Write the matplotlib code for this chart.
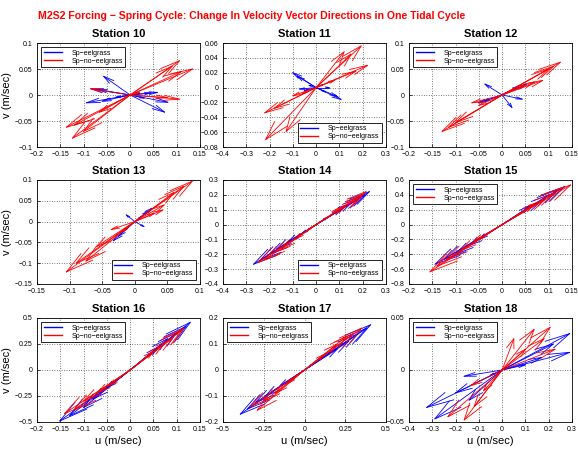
import numpy as np
import matplotlib
matplotlib.use("Agg")
from matplotlib import pyplot as plt

plt.rcParams['font.family'] = ['Liberation Sans', 'DejaVu Sans']

# velocity vectors (u, v) in m/sec
st10_eel_u = [-0.057, -0.084, -0.072, -0.094, -0.060, -0.030, 0.020, 0.074, 0.081, 0.059, 0.045, 0.030]
st10_eel_v = [0.036, 0.012, 0.011, -0.015, -0.012, -0.004, 0.003, -0.033, -0.014, 0.005, 0.004, -0.006]
st10_no_u = [0.106, 0.090, 0.134, 0.110, 0.106, 0.080, -0.085, -0.137, -0.120, -0.124, -0.100, -0.066, 0.020]
st10_no_v = [0.066, 0.055, 0.050, 0.045, -0.008, -0.005, 0.012, -0.062, -0.058, -0.083, -0.070, -0.033, 0.005]

st11_eel_u = [-0.100, -0.080, -0.071, -0.050, 0.057, 0.107, 0.090, 0.040, -0.030, 0.030]
st11_eel_v = [0.020, 0.015, -0.002, -0.004, 0.000, -0.016, -0.012, -0.006, 0.003, 0.004]
st11_no_u = [0.193, 0.150, 0.120, 0.221, 0.170, -0.221, -0.180, -0.217, -0.129, -0.100, -0.060, 0.080]
st11_no_v = [0.056, 0.045, 0.048, 0.030, 0.022, -0.034, -0.028, -0.070, -0.059, -0.011, -0.008, 0.010]

st12_eel_u = [-0.037, -0.051, -0.040, 0.043, 0.021, 0.052, 0.035, 0.010]
st12_eel_v = [0.021, -0.015, -0.012, -0.008, -0.024, 0.021, 0.017, 0.005]
st12_no_u = [0.125, 0.110, 0.100, 0.087, 0.070, 0.048, -0.129, -0.115, -0.100, -0.065, -0.050]
st12_no_v = [0.063, 0.055, 0.050, 0.028, 0.025, 0.019, -0.070, -0.062, -0.053, -0.015, -0.020]

st13_eel_u = [0.026, 0.020, -0.013, 0.014, -0.033, -0.025, 0.010]
st13_eel_v = [0.032, 0.025, 0.016, -0.012, -0.046, -0.035, 0.012]
st13_no_u = [0.088, 0.075, 0.060, 0.043, 0.045, 0.030, -0.105, -0.090, -0.075, -0.059, -0.036, -0.020]
st13_no_v = [0.097, 0.085, 0.070, 0.028, 0.040, 0.020, -0.121, -0.100, -0.095, -0.060, -0.019, -0.025]

st14_eel_u = [0.229, 0.210, 0.190, 0.150, 0.110, 0.050, -0.269, -0.240, -0.200, -0.170, -0.120, -0.060]
st14_eel_v = [0.222, 0.200, 0.180, 0.145, 0.105, 0.050, -0.267, -0.240, -0.200, -0.165, -0.115, -0.060]
st14_no_u = [0.214, 0.200, 0.180, 0.130, 0.110, -0.250, -0.220, -0.180, -0.150, -0.090, -0.040]
st14_no_v = [0.222, 0.200, 0.175, 0.130, 0.115, -0.256, -0.235, -0.190, -0.165, -0.095, -0.040]

st15_eel_u = [0.134, 0.120, 0.100, 0.080, 0.060, -0.144, -0.125, -0.100, -0.070, -0.050]
st15_eel_v = [0.511, 0.470, 0.400, 0.300, 0.250, -0.533, -0.470, -0.400, -0.280, -0.200]
st15_no_u = [0.147, 0.130, 0.110, 0.090, 0.070, -0.155, -0.140, -0.120, -0.090, -0.060]
st15_no_v = [0.533, 0.500, 0.420, 0.330, 0.280, -0.636, -0.560, -0.470, -0.350, -0.220]

st16_eel_u = [0.129, 0.120, 0.100, 0.080, 0.060, -0.151, -0.130, -0.100, -0.080, -0.050]
st16_eel_v = [0.458, 0.420, 0.360, 0.300, 0.220, -0.490, -0.440, -0.360, -0.280, -0.170]
st16_no_u = [0.116, 0.110, 0.090, 0.070, 0.050, -0.141, -0.120, -0.100, -0.070, -0.045]
st16_no_v = [0.403, 0.380, 0.300, 0.240, 0.180, -0.419, -0.380, -0.300, -0.220, -0.150]

st17_eel_u = [0.406, 0.380, 0.330, 0.270, 0.200, -0.394, -0.350, -0.300, -0.240, -0.150]
st17_eel_v = [0.174, 0.160, 0.140, 0.110, 0.080, -0.170, -0.150, -0.125, -0.100, -0.060]
st17_no_u = [0.350, 0.300, 0.260, 0.200, 0.120, -0.290, -0.330, -0.250, -0.180, -0.100]
st17_no_v = [0.161, 0.140, 0.130, 0.100, 0.060, -0.155, -0.140, -0.120, -0.090, -0.050]

st18_eel_u = [0.290, 0.290, 0.220, 0.170, 0.100, -0.324, -0.289, -0.163, -0.142, -0.200, -0.050]
st18_eel_v = [0.035, 0.017, 0.025, 0.012, 0.005, -0.036, -0.047, -0.006, -0.029, -0.022, -0.005]
st18_no_u = [0.137, 0.206, 0.227, 0.180, 0.100, 0.050, -0.163, -0.233, -0.135, -0.120, -0.080]
st18_no_v = [0.039, 0.041, 0.020, 0.030, 0.020, 0.030, -0.048, -0.045, -0.015, -0.035, -0.020]

stations = [10, 11, 12, 13, 14, 15, 16, 17, 18]
eel_u = [st10_eel_u, st11_eel_u, st12_eel_u, st13_eel_u, st14_eel_u, st15_eel_u, st16_eel_u, st17_eel_u, st18_eel_u]
eel_v = [st10_eel_v, st11_eel_v, st12_eel_v, st13_eel_v, st14_eel_v, st15_eel_v, st16_eel_v, st17_eel_v, st18_eel_v]
no_u = [st10_no_u, st11_no_u, st12_no_u, st13_no_u, st14_no_u, st15_no_u, st16_no_u, st17_no_u, st18_no_u]
no_v = [st10_no_v, st11_no_v, st12_no_v, st13_no_v, st14_no_v, st15_no_v, st16_no_v, st17_no_v, st18_no_v]

# axis ticks for each panel
xticks = [np.arange(-0.2, 0.151, 0.05), np.arange(-0.4, 0.31, 0.1), np.arange(-0.2, 0.151, 0.05),
          np.arange(-0.15, 0.101, 0.05), np.arange(-0.4, 0.31, 0.1), np.arange(-0.2, 0.151, 0.05),
          np.arange(-0.2, 0.151, 0.05), np.arange(-0.5, 0.51, 0.25), np.arange(-0.4, 0.31, 0.1)]
yticks = [np.arange(-0.1, 0.101, 0.05), np.arange(-0.08, 0.061, 0.02), np.arange(-0.1, 0.101, 0.05),
          np.arange(-0.15, 0.101, 0.05), np.arange(-0.4, 0.31, 0.1), np.arange(-0.8, 0.61, 0.2),
          np.arange(-0.5, 0.51, 0.25), np.arange(-0.2, 0.21, 0.1), np.arange(-0.05, 0.051, 0.05)]
legend_loc = ['upper left', 'lower right', 'upper left', 'lower right', 'lower right',
              'upper left', 'upper left', 'upper left', 'upper left']


def fmt(t):
    t = round(t, 4)
    if abs(t) < 1e-9:
        return '0'
    s = ('%g' % t)
    return s.replace('-', '\u2212')


def draw_arrows(ax, u, v, color, xspan, yspan):
    # arrows from the origin, open heads like matlab quiver
    alpha, beta = 0.3, 0.25
    for du, dv in zip(u, v):
        ax.plot([0, du], [0, dv], color=color, lw=0.6)
        nu, nv = du / xspan, dv / yspan
        hx = [nu - alpha * (nu + beta * nv), nu, nu - alpha * (nu - beta * nv)]
        hy = [nv - alpha * (nv - beta * nu), nv, nv - alpha * (nv + beta * nu)]
        ax.plot(np.array(hx) * xspan, np.array(hy) * yspan, color=color, lw=0.6)


fig = plt.figure(figsize=(5.78, 4.53), dpi=100)
fig.patch.set_facecolor('white')

lefts = [37, 223, 409]
tops = [43, 180, 318]
w, h = 163, 104

for i in range(9):
    r, c = i // 3, i % 3
    ax = fig.add_axes([lefts[c] / 578, 1 - (tops[r] + h) / 453, w / 578, h / 453])
    xt, yt = xticks[i], yticks[i]
    xspan = xt[-1] - xt[0]
    yspan = yt[-1] - yt[0]
    draw_arrows(ax, eel_u[i], eel_v[i], 'blue', xspan, yspan)
    draw_arrows(ax, no_u[i], no_v[i], 'red', xspan, yspan)
    ax.set_xlim(xt[0], xt[-1])
    ax.set_ylim(yt[0], yt[-1])
    ax.set_xticks(xt)
    ax.set_yticks(yt)
    ax.set_xticklabels([fmt(t) for t in xt])
    ax.set_yticklabels([fmt(t) for t in yt])
    ax.tick_params(direction='in', length=2, width=0.5, labelsize=5, pad=3)
    ax.grid(True, color='black', linestyle=(0, (1, 2.5)), linewidth=0.5)
    for sp in ax.spines.values():
        sp.set_linewidth(0.6)
    ax.set_title('Station %d' % stations[i], fontsize=8, fontweight='bold', pad=4)
    if c == 0:
        ax.set_ylabel('v (m/sec)', fontsize=8, labelpad=2)
    if r == 2:
        ax.set_xlabel('u (m/sec)', fontsize=8, labelpad=2)
    h1, = ax.plot([], [], color='blue', lw=1.0)
    h2, = ax.plot([], [], color='red', lw=1.0)
    leg = ax.legend([h1, h2], ['Sp\u2212eelgrass', 'Sp\u2212no\u2212eelgrass'], loc=legend_loc[i],
                    fontsize=5, fancybox=False, framealpha=1, edgecolor='black',
                    handlelength=2.6, handletextpad=1.4, borderpad=0.35, labelspacing=0.15,
                    borderaxespad=0.6)
    leg.get_frame().set_linewidth(0.6)

fig.text(38 / 578, 1 - 16 / 453, 'M2S2 Forcing \u2212 Spring Cycle: Change In Velocity Vector Directions in One Tidal Cycle',
         color='red', fontsize=7.6, fontweight='bold', va='center', ha='left')

plt.savefig('out.png', dpi=100)
